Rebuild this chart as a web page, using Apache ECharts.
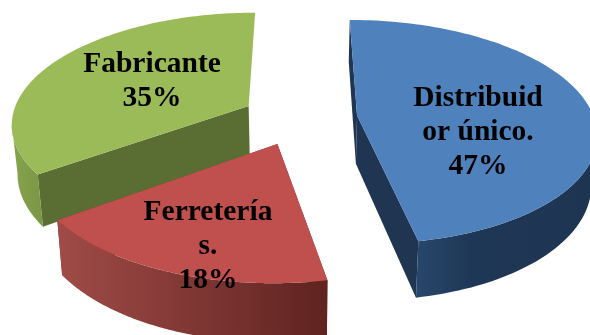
<!DOCTYPE html>
<html>
<head>
<meta charset="utf-8">
<style>html,body{margin:0;padding:0;background:#fff}#c{width:590px;height:335px}</style>
<script src="https://cdn.jsdelivr.net/npm/echarts@6/dist/echarts.min.js"></script>
</head>
<body>
<div id="c"></div>
<script>
// Proveedores: share of each supplier type
const categories = ['Distribuidor único', 'Ferreterías', 'Fabricante'];
const shares = [47, 18, 35];
const labelNames = ['Distribuid\nor único.', 'Ferretería\ns.', 'Fabricante'];

// Perspective pie layout (pixels unless noted)
const pie = { cx: 299.5, cy: 118, radius: 237, explode: 58, thickness: 48.5, depthK: 6.8, eyeHeight: 750, vanishX: 300, footShrink: 0.02 };
const labelAnchors = [[478, 132], [208, 246], [152, 81]];
const paintOrder = [0, 20, 10];
const endFaceShown = [true, true, false];
const topColors = ['#4f81bd', '#c0504d', '#9bbb59'];
const wallColors = [
  [[0, '#27476c'], [0.3, '#1f3756'], [1, '#1e3552']],
  [[0, '#a04b48'], [1, '#5f2320']],
  [[0, '#87a44d'], [1, '#7a9645']]
];
const faceColors = ['#1f3552', '#7a2e2c', '#5a6e33'];

const worldCentreX = pie.cx - pie.vanishX;

// Depth is in radius units; positive runs away from the viewer
function project(x, depth, lowered) {
  const s = 1 / (1 + depth / pie.depthK);
  const y = pie.cy + pie.eyeHeight * (s - 1);
  if (!lowered) return [pie.vanishX + x * s, y];
  return [pie.vanishX + x * s * (1 - pie.footShrink), y + pie.thickness * s];
}

function sliceGeometry(index) {
  const total = shares.reduce((a, b) => a + b, 0);
  const before = shares.slice(0, index).reduce((a, b) => a + b, 0);
  const a0 = before / total * 2 * Math.PI;
  const a1 = (before + shares[index]) / total * 2 * Math.PI;
  const mid = (a0 + a1) / 2;
  const centre = {
    x: worldCentreX + pie.explode * Math.sin(mid),
    depth: pie.explode / pie.radius * Math.cos(mid)
  };
  const steps = 120;
  const rim = [];
  for (let i = 0; i <= steps; i++) {
    const a = a0 + (a1 - a0) * i / steps;
    rim.push({ x: centre.x + pie.radius * Math.sin(a), depth: centre.depth + Math.cos(a) });
  }
  return { centre, rim };
}

// Keep only the run of rim points whose wall faces the viewer (rim moving leftwards)
function visibleRun(topRim, lowRim) {
  const keep = [];
  for (let i = 0; i < topRim.length - 1; i++) {
    if (topRim[i + 1][0] < topRim[i][0]) keep.push(i);
  }
  if (!keep.length) return [];
  const from = keep[0], to = keep[keep.length - 1] + 1;
  return topRim.slice(from, to + 1).concat(lowRim.slice(from, to + 1).reverse());
}

function renderSlice(params, api) {
  const i = params.dataIndex;
  const value = api.value(0);
  const g = sliceGeometry(i);
  const base = paintOrder[i];
  const topRim = g.rim.map(p => project(p.x, p.depth, false));
  const lowRim = g.rim.map(p => project(p.x, p.depth, true));
  const cTop = project(g.centre.x, g.centre.depth, false);
  const cLow = project(g.centre.x, g.centre.depth, true);
  const last = topRim.length - 1;
  const wallGrad = new echarts.graphic.LinearGradient(0, 0, 1, 0,
    wallColors[i].map(s => ({ offset: s[0], color: s[1] })));
  const poly = (points, fill, z) => ({
    type: 'polygon', shape: { points }, style: { fill }, z2: base + z, silent: true
  });
  const children = [
    poly([cTop, topRim[0], lowRim[0], cLow], faceColors[i], 1),
    poly(visibleRun(topRim, lowRim), wallGrad, 2),
    poly([cTop].concat(topRim), topColors[i], 3),
    {
      type: 'text', z2: 100, silent: true,
      style: {
        text: labelNames[i] + '\n' + value + '%',
        x: labelAnchors[i][0], y: labelAnchors[i][1],
        align: 'center', verticalAlign: 'middle',
        font: 'bold 29.5px "Liberation Serif"', lineHeight: 34, fill: '#000'
      }
    }
  ];
  if (endFaceShown[i]) {
    children.unshift(poly([cTop, topRim[last], lowRim[last], cLow], faceColors[i], 1));
  }
  return { type: 'group', children };
}

const chart = echarts.init(document.getElementById('c'), null, { renderer: 'canvas' });
chart.setOption({
  animation: false,
  backgroundColor: '#fff',
  series: [{
    type: 'custom',
    coordinateSystem: 'none',
    renderItem: renderSlice,
    data: shares.map((v, i) => ({ name: categories[i], value: [v] }))
  }]
});
</script>
</body>
</html>
